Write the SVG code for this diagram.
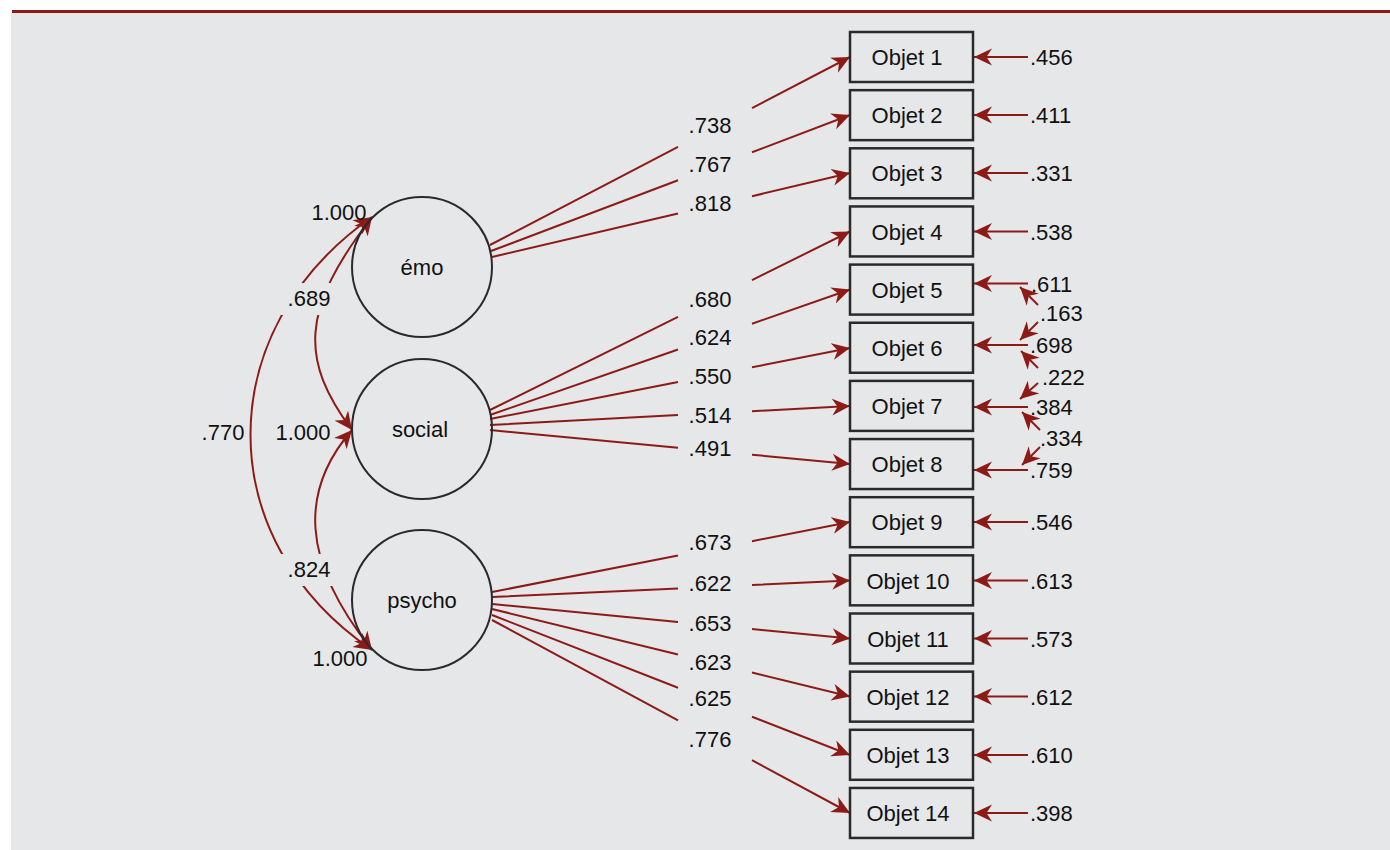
<svg xmlns="http://www.w3.org/2000/svg" width="1390" height="850" viewBox="0 0 1390 850">
<style>
text{font-family:"Liberation Sans",Arial,sans-serif;font-size:22px;fill:#111}
.box{fill:none;stroke:#2a2a2a;stroke-width:2.5}
.lat{fill:none;stroke:#2a2a2a;stroke-width:2}
.c{fill:none;stroke:#8c1b17;stroke-width:2}
.m{text-anchor:middle}
</style>
<defs>
<marker id="ah" viewBox="0 0 18 18" markerUnits="userSpaceOnUse" markerWidth="18" markerHeight="18" refX="18" refY="9" orient="auto-start-reverse">
<path d="M0,0.5 L18,9 L0,17.5 L5.5,9 z" fill="#8c1b17"/>
</marker>
<mask id="lm" maskUnits="userSpaceOnUse" x="0" y="0" width="1390" height="850">
<rect x="0" y="0" width="1390" height="850" fill="#fff"/>
<rect x="275" y="283" width="70" height="32" fill="#000"/>
<rect x="275" y="554" width="70" height="32" fill="#000"/>
</mask>
</defs>
<rect x="0" y="0" width="1390" height="850" fill="#fff"/>
<rect x="11" y="13" width="1379" height="837" fill="#e6e7e9"/>
<rect x="12" y="10" width="1378" height="3" fill="#8c1b17"/>

<g id="connectors">
<g id="loadings" class="c" marker-end="url(#ah)">
<path d="M490,245 L678,146.8 M752,108.2 L850,57"/>
<path d="M491,251 L678,180.3 M752,152.3 L850,115"/>
<path d="M492,257 L678,213.5 M752,196.2 L850,173"/>
<path d="M490,410 L678,316.8 M752,280.1 L850,231.5"/>
<path d="M490,415 L678,349.5 M752,323.7 L850,289.5"/>
<path d="M490,419 L678,381.9 M752,367.3 L850,348"/>
<path d="M490,425 L678,415.1 M752,411.2 L850,406"/>
<path d="M490,430 L678,447.8 M752,454.7 L850,464"/>
<path d="M492,592 L678,555.6 M752,541.2 L850,522"/>
<path d="M492,597 L678,588.4 M752,585 L850,580.5"/>
<path d="M492,604 L678,621.9 M752,629.1 L850,638.5"/>
<path d="M492,609 L678,654.5 M752,672.5 L850,696.5"/>
<path d="M492,615 L678,687.7 M752,716.7 L850,755"/>
<path d="M492,620 L678,720.3 M752,760.2 L850,813"/>
</g>
<g id="residuals" class="c" marker-end="url(#ah)">
<path d="M1028,57 L974,57"/>
<path d="M1028,115 L974,115"/>
<path d="M1028,173 L974,173"/>
<path d="M1028,231.5 L974,231.5"/>
<path d="M1028,283.5 L974,283.5"/>
<path d="M1028,345 L974,345"/>
<path d="M1028,407 L974,407"/>
<path d="M1028,470 L974,470"/>
<path d="M1028,522 L974,522"/>
<path d="M1028,580.5 L974,580.5"/>
<path d="M1028,638.5 L974,638.5"/>
<path d="M1028,696.5 L974,696.5"/>
<path d="M1028,755 L974,755"/>
<path d="M1028,813 L974,813"/>
</g>
<g id="error-covariances" class="c" marker-end="url(#ah)">
<path d="M1038,305 L1020,287"/>
<path d="M1038,322 L1020,340"/>
<path d="M1038,368 L1021,351"/>
<path d="M1038,383 L1020,399"/>
<path d="M1040,430 L1022,412"/>
<path d="M1040,447 L1022,465"/>
</g>
<g id="latent-covariances" class="c" mask="url(#lm)" marker-start="url(#ah)" marker-end="url(#ah)">
<path d="M372,217 C300,310 300,360 352,430"/>
<path d="M372,217 C210,330 210,540 372,650"/>
<path d="M352,430 C300,490 300,560 372,650"/>
</g>
</g>

<g id="latent-emo"><circle class="lat" cx="422" cy="267" r="70"/><text class="m" x="422" y="275">émo</text></g>
<g id="latent-social"><circle class="lat" cx="422" cy="429" r="70"/><text class="m" x="420" y="437">social</text></g>
<g id="latent-psycho"><circle class="lat" cx="422" cy="600" r="70"/><text class="m" x="422" y="608">psycho</text></g>

<g id="objet1"><rect class="box" x="850" y="32" width="123" height="50"/><text class="m" x="907" y="65">Objet 1</text></g>
<g id="objet2"><rect class="box" x="850" y="90.15" width="123" height="50"/><text class="m" x="907" y="123">Objet 2</text></g>
<g id="objet3"><rect class="box" x="850" y="148.3" width="123" height="50"/><text class="m" x="907" y="181">Objet 3</text></g>
<g id="objet4"><rect class="box" x="850" y="206.45" width="123" height="50"/><text class="m" x="907" y="239.5">Objet 4</text></g>
<g id="objet5"><rect class="box" x="850" y="264.6" width="123" height="50"/><text class="m" x="907" y="297.5">Objet 5</text></g>
<g id="objet6"><rect class="box" x="850" y="322.75" width="123" height="50"/><text class="m" x="907" y="356">Objet 6</text></g>
<g id="objet7"><rect class="box" x="850" y="380.9" width="123" height="50"/><text class="m" x="907" y="414">Objet 7</text></g>
<g id="objet8"><rect class="box" x="850" y="439.05" width="123" height="50"/><text class="m" x="907" y="472">Objet 8</text></g>
<g id="objet9"><rect class="box" x="850" y="497.2" width="123" height="50"/><text class="m" x="907" y="530">Objet 9</text></g>
<g id="objet10"><rect class="box" x="850" y="555.35" width="123" height="50"/><text class="m" x="908" y="588.5">Objet 10</text></g>
<g id="objet11"><rect class="box" x="850" y="613.5" width="123" height="50"/><text class="m" x="908" y="646.5">Objet 11</text></g>
<g id="objet12"><rect class="box" x="850" y="671.65" width="123" height="50"/><text class="m" x="908" y="704.5">Objet 12</text></g>
<g id="objet13"><rect class="box" x="850" y="729.8" width="123" height="50"/><text class="m" x="908" y="763">Objet 13</text></g>
<g id="objet14"><rect class="box" x="850" y="787.95" width="123" height="50"/><text class="m" x="908" y="821">Objet 14</text></g>

<g id="loading-labels" class="m">
<text class="m" x="710" y="133">.738</text>
<text class="m" x="710" y="172">.767</text>
<text class="m" x="710" y="211">.818</text>
<text class="m" x="710" y="307">.680</text>
<text class="m" x="710" y="345">.624</text>
<text class="m" x="710" y="384">.550</text>
<text class="m" x="710" y="423">.514</text>
<text class="m" x="710" y="456">.491</text>
<text class="m" x="710" y="550">.673</text>
<text class="m" x="710" y="591">.622</text>
<text class="m" x="710" y="631">.653</text>
<text class="m" x="710" y="670">.623</text>
<text class="m" x="710" y="706">.625</text>
<text class="m" x="710" y="747">.776</text>
</g>
<g id="residual-labels">
<text x="1030" y="65">.456</text>
<text x="1030" y="123">.411</text>
<text x="1030" y="181">.331</text>
<text x="1030" y="239.5">.538</text>
<text x="1031" y="291.5">.611</text>
<text x="1030" y="353">.698</text>
<text x="1030" y="415">.384</text>
<text x="1030" y="478">.759</text>
<text x="1030" y="530">.546</text>
<text x="1030" y="588.5">.613</text>
<text x="1030" y="646.5">.573</text>
<text x="1030" y="704.5">.612</text>
<text x="1030" y="763">.610</text>
<text x="1030" y="821">.398</text>
<text x="1040" y="321">.163</text>
<text x="1042" y="384.5">.222</text>
<text x="1040" y="446">.334</text>
</g>
<g id="covariance-labels">
<text class="m" x="339" y="220">1.000</text>
<text class="m" x="303" y="440">1.000</text>
<text class="m" x="340" y="666">1.000</text>
<text class="m" x="309" y="305.5">.689</text>
<text class="m" x="309" y="577">.824</text>
<text class="m" x="223" y="440">.770</text>
</g>
</svg>
